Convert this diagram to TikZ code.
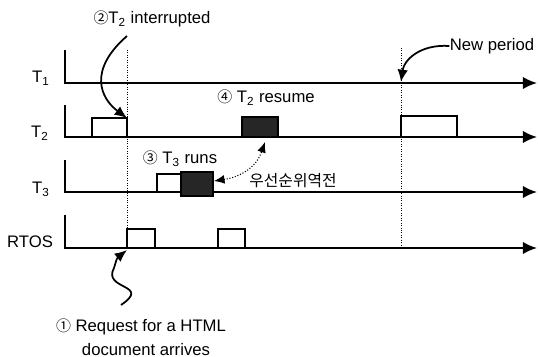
\documentclass[tikz,border=0pt]{standalone}
\usepackage{fontspec}
\setmainfont{Liberation Sans}
\newfontfamily\cjk{Noto Sans CJK KR}
\newcommand{\circnum}[1]{{\cjk\fontsize{8.5}{10}\selectfont #1}}
\usetikzlibrary{arrows.meta}
\tikzstyle{axis} = [line width=1pt, -{Latex[length=8pt,width=7pt]}]
\tikzstyle{job} = [semithick, fill=white]
\tikzstyle{busy} = [semithick, fill=black!85]
\tikzstyle{marker} = [densely dotted, thin]
\tikzstyle{callout} = [line width=1pt, -{Latex[length=7pt,width=6pt]}]
\tikzstyle{swap} = [densely dotted, semithick, {Latex[length=6pt,width=5pt]}-{Latex[length=6pt,width=5pt]}]
\tikzstyle{lbl} = [inner sep=0pt, font=\fontsize{9.5}{11}\selectfont]

\begin{document}
\begin{tikzpicture}[x=0.02cm, y=-0.02cm]
\useasboundingbox (0,0) rectangle (538,357);

% time lines
\draw [axis] (65,50) -- (65,83) -- (537,83);
\draw [axis] (65,105) -- (65,137) -- (537,137);
\draw [axis] (65,160) -- (65,192) -- (537,192);
\draw [axis] (65,215) -- (65,248) -- (537,248);

\node (lblT1) [lbl] at (41,78) {T\textsubscript{1}};
\node (lblT2) [lbl] at (40,133) {T\textsubscript{2}};
\node (lblT3) [lbl] at (41,189) {T\textsubscript{3}};
\node (lblOS) [lbl] at (30,242) {RTOS};

% event markers
\draw [marker] (127,50) -- (127,248);
\draw [marker] (401,48) -- (401,248);

% jobs
\draw [job] (92,118) rectangle (127,137);
\draw [busy] (242,117) rectangle (278,137);
\draw [job] (401,116) rectangle (457,137);
\draw [job] (157,174) rectangle (181,192);
\draw [busy] (181,172) rectangle (213,196);
\draw [job] (127,229) rectangle (155,248);
\draw [job] (218,229) rectangle (245,248);

\coordinate (t2stop) at (127,118);
\coordinate (t1new) at (401,82);
\coordinate (osrun) at (127,250);
\coordinate (t3hold) at (214,181);
\coordinate (t2back) at (265,142);

% labels
\node (intr) [lbl] at (152,19) {\circnum{②}T\textsubscript{2} interrupted};
\node (resume) [lbl] at (266,98) {\circnum{④} T\textsubscript{2} resume};
\node (runs) [lbl] at (180,159) {\circnum{③} T\textsubscript{3} runs};
\node (inv) [lbl, font=\cjk\fontsize{9}{11}\selectfont] at (293,181) {우선순위역전};
\node (period) [lbl] at (492,46) {New period};
\node (req) [lbl] at (141,327) {\circnum{①} Request for a HTML};
\node (req2) [lbl] at (146,350) {document arrives};

% callouts
\draw [callout] (127,36) .. controls (88,70) and (100,98) .. (t2stop);
\draw [callout] (period.west) .. controls (420,44) and (404,60) .. (t1new);
\draw [callout] (121,305) .. controls (152,284) and (102,290) .. (114,268) .. controls (117,258) .. (osrun);
\draw [swap] (t3hold) .. controls (240,177) and (256,168) .. (t2back);
\end{tikzpicture}
\end{document}
